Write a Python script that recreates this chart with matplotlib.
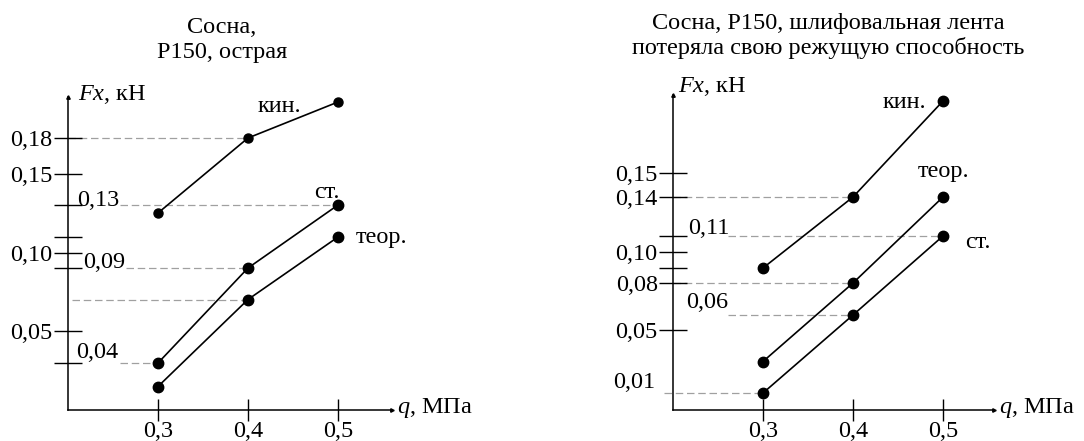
import numpy as np
import matplotlib
matplotlib.use("Agg")
import matplotlib.pyplot as plt

plt.rcParams['font.family'] = 'Liberation Serif'
plt.rcParams['mathtext.fontset'] = 'custom'
plt.rcParams['mathtext.rm'] = 'Liberation Serif'
plt.rcParams['mathtext.it'] = 'Liberation Serif:italic'

# data
q = [0.3, 0.4, 0.5]
q_labels = ['0,3', '0,4', '0,5']

left_title = 'Сосна,\nР150, острая'
left_kin = [0.125, 0.18, 0.21]
left_st = [0.04, 0.09, 0.13]
left_teor = [0.02, 0.07, 0.11]

right_title = 'Сосна, Р150, шлифовальная лента\nпотеряла свою режущую способность'
right_kin = [0.09, 0.14, 0.18]
right_teor = [0.03, 0.08, 0.14]
right_st = [0.01, 0.06, 0.11]

# the y axes of the original are schematic, not linear:
# value -> pixel height above the q axis
left_scale_val = [-0.1, 0.0, 0.04, 0.05, 0.09, 0.10, 0.13, 0.15, 0.18, 0.30]
left_scale_px = [-100, 0, 47, 79, 142, 157, 205, 236, 272, 416]
right_scale_val = [-0.1, 0.0, 0.01, 0.05, 0.06, 0.08, 0.09, 0.10, 0.11, 0.14, 0.15, 0.30]
right_scale_px = [-170, 0, 17, 80, 95, 127, 142, 158, 174, 213, 237, 597]

W, H = 1084, 441
FS = 17.5
fig = plt.figure(figsize=(W / 100, H / 100), dpi=100)


def make_axes(x0, y_axis, width, height, sv, sp):
    ax = fig.add_axes([x0 / W, (H - y_axis) / H, width / W, height / H])
    fwd = lambda v: np.interp(v, sv, sp)
    inv = lambda h: np.interp(h, sp, sv)
    ax.set_yscale('function', functions=(fwd, inv))
    ax.set_xlim(0.2, 0.2 + width / 900)
    ax.set_ylim(0, inv(height))
    ax.patch.set_visible(False)
    for s in ['top', 'right']:
        ax.spines[s].set_visible(False)
    for s in ['left', 'bottom']:
        ax.spines[s].set_linewidth(1.1)
    # small arrow heads at the ends of the axes
    ax.plot(1, 0, '>', color='k', ms=2.5, transform=ax.transAxes, clip_on=False)
    ax.plot(0, 1, '^', color='k', ms=2.5, transform=ax.transAxes, clip_on=False)
    ax.set_xticks(q)
    ax.set_xticklabels(q_labels)
    ax.tick_params(axis='x', direction='inout', length=16, width=1, labelsize=FS, pad=0)
    ax.tick_params(axis='y', which='both', direction='inout', length=20, width=1,
                   labelsize=FS, pad=1)
    ax.annotate('$q$, МПа', xy=(1, 0), xycoords='axes fraction', xytext=(5, 2),
                textcoords='offset pixels', ha='left', va='center', fontsize=FS)
    return ax


def series(ax, vals, ms=7.5):
    ax.plot(q, vals, color='k', lw=1.2, marker='o', ms=ms, clip_on=False, zorder=3)


def guide(ax, x_from, x_to, y):
    ax.plot([x_from, x_to], [y, y], color='#a0a0a0', lw=0.9, dashes=(6, 3),
            clip_on=False, zorder=1)


def side_label(ax, text, y, dx, dy):
    ax.annotate(text, xy=(0, y), xycoords=ax.get_yaxis_transform(), xytext=(dx, dy),
                textcoords='offset pixels', ha='left', va='center', fontsize=FS)


def name(ax, text, x, y, dx, dy, ha='center'):
    ax.annotate(text, xy=(x, y), xytext=(dx, dy), textcoords='offset pixels',
                ha=ha, va='center', fontsize=FS)


# ---- left chart ----
ax1 = make_axes(68, 410, 324, 313, left_scale_val, left_scale_px)
ax1.set_yticks([0.05, 0.10, 0.15, 0.18])
ax1.set_yticklabels(['0,05', '0,10', '0,15', '0,18'])
ax1.set_yticks([0.04, 0.09, 0.11, 0.13], minor=True)

guide(ax1, 0.2, q[1], left_kin[1])
guide(ax1, 0.258, q[2], left_st[2])
guide(ax1, 0.264, q[1], left_st[1])
guide(ax1, 0.204, q[1], left_teor[1])
guide(ax1, 0.258, q[0], left_st[0])

series(ax1, left_kin, ms=6.5)
series(ax1, left_st)
series(ax1, left_teor)

side_label(ax1, '0,13', left_st[2], 9, 4)
side_label(ax1, '0,09', left_st[1], 15, 5)
side_label(ax1, '0,04', left_st[0], 8, 10)

name(ax1, 'кин.', q[2], left_kin[2], -59, -5)
name(ax1, 'ст.', q[2], left_st[2], -11, 13)
name(ax1, 'теор.', q[2], left_teor[2], 18, 0, ha='left')
ax1.annotate('$Fx$, кН', xy=(0, 1), xycoords='axes fraction', xytext=(10, 2),
             textcoords='offset pixels', ha='left', va='center', fontsize=FS)

fig.text(222 / W, 1 - 40 / H, left_title, ha='center', va='center', fontsize=FS,
         linespacing=1.3)

# ---- right chart ----
ax2 = make_axes(673, 410, 321, 315, right_scale_val, right_scale_px)
ax2.set_yticks([0.05, 0.08, 0.10, 0.14, 0.15])
ax2.set_yticklabels(['0,05', '0,08', '0,10', '0,14', '0,15'])
ax2.set_yticks([0.09, 0.11], minor=True)

guide(ax2, 0.2, q[1], right_kin[1])
guide(ax2, 0.261, q[2], right_st[2])
guide(ax2, 0.2, q[1], right_teor[1])
guide(ax2, 0.261, q[1], right_st[1])
guide(ax2, 0.19, q[0], right_st[0])

series(ax2, right_kin)
series(ax2, right_teor)
series(ax2, right_st)

side_label(ax2, '0,11', right_st[2], 15, 8)
side_label(ax2, '0,06', right_st[1], 13, 12)
side_label(ax2, '0,01', right_st[0], -60, 11)

name(ax2, 'кин.', q[2], right_kin[2], -39, -1)
name(ax2, 'теор.', q[2], right_teor[2], 1, 25)
name(ax2, 'ст.', q[2], right_st[2], 35, -7)
ax2.annotate('$Fx$, кН', xy=(0, 1), xycoords='axes fraction', xytext=(5, 9),
             textcoords='offset pixels', ha='left', va='center', fontsize=FS)

fig.text(828 / W, 1 - 36 / H, right_title, ha='center', va='center', fontsize=FS,
         linespacing=1.2)

fig.savefig('out.png', dpi=100)
